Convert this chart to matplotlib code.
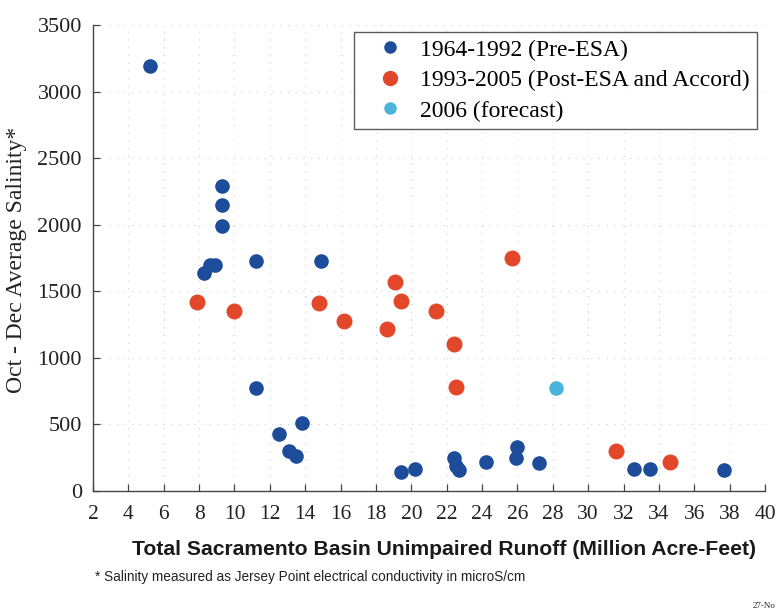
import matplotlib
matplotlib.use("Agg")
import matplotlib.pyplot as plt
from matplotlib.lines import Line2D

# ---------------------------------------------------------------------------
# Dados
# ---------------------------------------------------------------------------
pre_esa_x = [5.2, 9.3, 9.3, 9.3, 8.3, 8.6, 8.9, 11.2, 14.9, 11.2, 12.5, 13.1,
             13.5, 13.8, 19.4, 20.2, 22.4, 22.5, 22.7, 24.2, 25.9, 26.0,
             27.2, 32.6, 33.5, 37.7]
pre_esa_y = [3190, 2290, 2150, 1990, 1640, 1700, 1700, 1730, 1730, 775, 430,
             300, 265, 510, 145, 165, 250, 190, 160, 215, 250, 330, 210,
             165, 165, 160]

post_esa_x = [7.9, 10.0, 14.8, 16.2, 18.6, 19.1, 19.4, 21.4, 22.4, 22.5,
              25.7, 31.6, 34.6]
post_esa_y = [1420, 1350, 1410, 1275, 1215, 1570, 1425, 1350, 1105, 780,
              1750, 300, 220]

forecast_x = [28.2]
forecast_y = [775]

x_ticks = list(range(2, 41, 2))
y_ticks = list(range(0, 3501, 500))

COR_AZUL = "#1d4c9a"
COR_VERMELHO = "#e2472a"
COR_CIANO = "#4ab4da"

SERIF = ["Liberation Serif", "DejaVu Serif"]
SANS = ["Liberation Sans", "DejaVu Sans"]

fig = plt.figure(figsize=(7.77, 6.15), dpi=100)
ax = fig.add_axes([93 / 777, 1 - 491 / 615, 672 / 777, 466 / 615])

ax.set_axisbelow(True)
ax.grid(True, color="#c4c4c4", linestyle=(0, (1, 7)), linewidth=0.7)

ax.scatter(pre_esa_x, pre_esa_y, s=90, color=COR_AZUL, zorder=3)
ax.scatter(post_esa_x, post_esa_y, s=110, color=COR_VERMELHO, zorder=3)
ax.scatter(forecast_x, forecast_y, s=90, color=COR_CIANO, zorder=3)

ax.set_xlim(2, 40)
ax.set_ylim(0, 3500)
ax.set_xticks(x_ticks)
ax.set_yticks(y_ticks)
ax.tick_params(direction="in", length=5, width=0.9, color="#444444")
ax.tick_params(axis="x", labelsize=15.5, pad=10)
ax.tick_params(axis="y", labelsize=16, pad=8)
for lab in ax.get_xticklabels() + ax.get_yticklabels():
    lab.set_family(SERIF)
    lab.set_color("#222222")

for lado in ("top", "right"):
    ax.spines[lado].set_visible(False)
for lado in ("left", "bottom"):
    ax.spines[lado].set_color("#444444")
    ax.spines[lado].set_linewidth(1.0)

ax.set_xlabel("Total Sacramento Basin Unimpaired Runoff (Million Acre-Feet)",
              family=SANS, fontweight="bold", fontsize=15.2, color="#1a1a1a")
ax.xaxis.set_label_coords(0.5216, -0.105)
ax.set_ylabel("Oct - Dec Average Salinity*", family=SERIF, fontsize=17,
              color="#222222")
ax.yaxis.set_label_coords(-0.098, 0.497)

handles = [
    Line2D([], [], marker="o", linestyle="none", color=COR_AZUL, markersize=8),
    Line2D([], [], marker="o", linestyle="none", color=COR_VERMELHO, markersize=10),
    Line2D([], [], marker="o", linestyle="none", color=COR_CIANO, markersize=8),
]
rotulos = ["1964-1992 (Pre-ESA)", "1993-2005 (Post-ESA and Accord)",
           "2006 (forecast)"]
leg = ax.legend(handles, rotulos, loc="upper right", bbox_to_anchor=(0.988, 0.985),
                prop={"family": SERIF, "size": 17}, frameon=True, fancybox=False,
                edgecolor="#333333", handletextpad=0.05, borderpad=0.3,
                labelspacing=0.38, handlelength=2.45, borderaxespad=0.0)
leg.get_frame().set_linewidth(1.0)

fig.text(95 / 777, 1 - 577 / 615,
         "* Salinity measured as Jersey Point electrical conductivity in microS/cm",
         family=SANS, fontsize=9.8, va="center", ha="left", color="#222222")
fig.text(753 / 777, 1 - 606 / 615, "27-No", family=SERIF, fontsize=6.5,
         va="center", ha="left", color="#222222")

fig.savefig("out.png", dpi=100)
